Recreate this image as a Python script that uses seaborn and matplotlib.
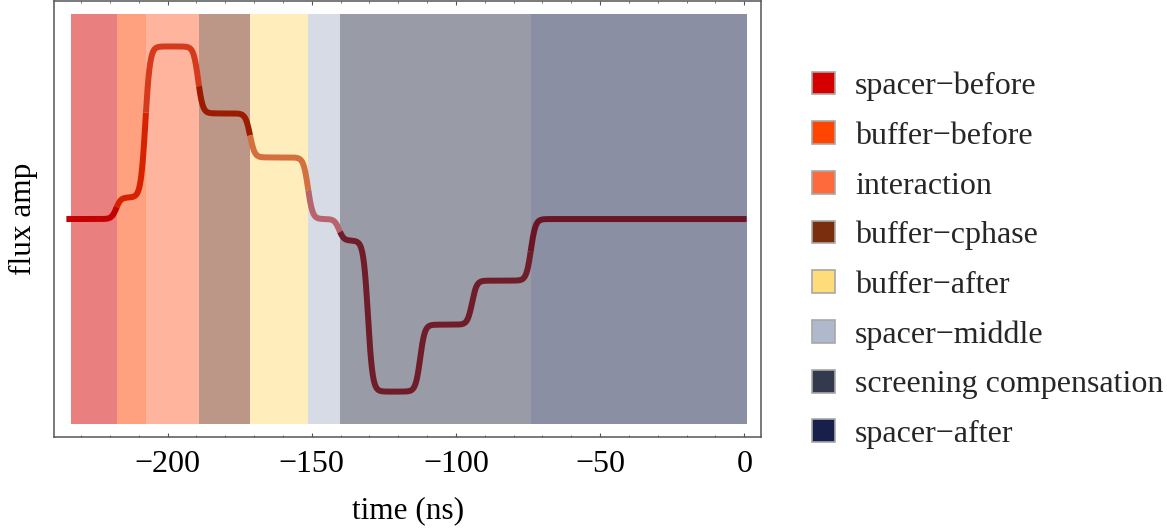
import numpy as np
import pandas as pd
import matplotlib
matplotlib.use("Agg")
import matplotlib.pyplot as plt
from matplotlib.patches import Patch
from matplotlib.ticker import MultipleLocator
import seaborn as sns

# pulse sections (ns) and their colours
segments = ["spacer\u2212before", "buffer\u2212before", "interaction", "buffer\u2212cphase",
            "buffer\u2212after", "spacer\u2212middle", "screening compensation", "spacer\u2212after"]
seg_start = [-233.4, -217.6, -207.5, -189.1, -171.4, -151.2, -140.2, -74.1]
seg_end = [-217.6, -207.5, -189.1, -171.4, -151.2, -140.2, -74.1, 0.8]
seg_colors = ["#D40000", "#FF4500", "#FF6A3D", "#7B2E0E",
              "#FFDC7A", "#B0B8CC", "#343A4E", "#16204A"]
line_colors = ["#C40000", "#D62200", "#D63A1C", "#9C1C02",
               "#D4703E", "#B8646C", "#701D2B", "#6A1426"]

# flux pulse: plateau levels and the times at which the level switches
step_times = [-217.8, -207.7, -189.4, -171.4, -151.3, -140.5, -130.5, -112.4, -94.4, -74.0]
levels = [0.0, 0.125, 1.0, 0.612, 0.357, 0.0, -0.125, -1.0, -0.612, -0.357, 0.0]
pulse_start, pulse_end = -235.1, 0.8
rise_time = 1.6  # ns, width of the filtered edges

x_ticks = [-200, -150, -100, -50, 0]


def flux(t):
    y = np.full_like(t, levels[0])
    for ts, a, b in zip(step_times, levels[:-1], levels[1:]):
        y += (b - a) * 0.5 * (1.0 + np.tanh((t - ts) / rise_time))
    return y


frames = []
for i, name in enumerate(segments):
    lo = pulse_start if i == 0 else seg_start[i]
    hi = pulse_end if i == len(segments) - 1 else seg_end[i]
    t = np.linspace(lo, hi, max(int((hi - lo) / 0.05), 2))
    frames.append(pd.DataFrame({"time": t, "flux": flux(t), "section": name}))
curve = pd.concat(frames, ignore_index=True)

sns.set_theme(style="white")
plt.rcParams["font.family"] = ["Liberation Serif", "DejaVu Serif"]
plt.rcParams["axes.unicode_minus"] = True

fig = plt.figure(figsize=(11.67, 5.31), dpi=100)
ax = fig.add_axes([0.0465, 0.177, 0.6056, 0.821])

for s, e, c in zip(seg_start, seg_end, seg_colors):
    ax.axvspan(s, e, ymin=0.029, ymax=0.971, facecolor=c, alpha=0.5, linewidth=0, zorder=1)

sns.lineplot(data=curve, x="time", y="flux", hue="section",
             palette=dict(zip(segments, line_colors)), hue_order=segments,
             linewidth=4.3, legend=False, ax=ax, zorder=3, estimator=None, sort=False)
for ln in ax.get_lines():
    ln.set_solid_capstyle("butt")

ax.set_xlim(-239.3, 5.8)
ax.set_ylim(-1.263, 1.263)
ax.set_xticks(x_ticks)
ax.xaxis.set_minor_locator(MultipleLocator(10))
ax.set_yticks([])
ax.tick_params(axis="x", which="both", direction="in", top=True, bottom=True,
               color="#555555", labelsize=23, pad=9, labelcolor="black")
ax.tick_params(axis="x", which="major", length=3.0, width=0.8)
ax.tick_params(axis="x", which="minor", length=1.6, width=0.6)
for sp in ax.spines.values():
    sp.set_color("#555555")
    sp.set_linewidth(1.1)

ax.set_xlabel("time (ns)", fontsize=22.5, labelpad=13, color="black")
ax.set_ylabel("flux amp", fontsize=22.5, labelpad=12, color="black")

handles = [Patch(facecolor=c, edgecolor="#A8A8A8", linewidth=1.2) for c in seg_colors]
fig.legend(handles, segments, loc="upper left", bbox_to_anchor=(0.696, 0.865),
           frameon=False, fontsize=23, handlelength=0.72, handleheight=0.72,
           handletextpad=0.62, labelspacing=0.63, borderpad=0, borderaxespad=0)

fig.savefig("out.png", dpi=100)
